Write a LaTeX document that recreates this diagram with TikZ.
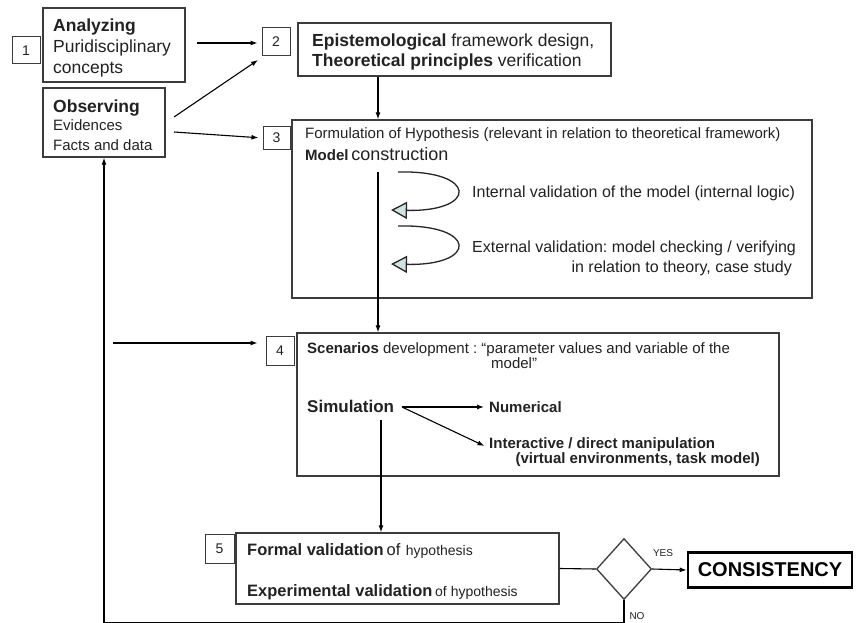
\documentclass[tikz,border=0pt]{standalone}
\usepackage{fontspec}
\setmainfont{Liberation Sans}
\usetikzlibrary{arrows.meta,shapes.geometric}
\definecolor{boxline}{HTML}{3C3C3C}
\definecolor{tealfill}{HTML}{CFE4E1}
\definecolor{txtc}{HTML}{222222}
\newcommand\fsz[1]{\fontsize{#1}{#1}\selectfont}
\frenchspacing
\begin{document}
\begin{tikzpicture}[x=1pt,y=-1pt,
  box/.style={draw=boxline, line width=1.3pt, rectangle, inner sep=0},
  numbox/.style={box, line width=1pt, font=\fsz{14}, text=txtc},
  txt/.style={inner sep=0, anchor=base west, text=txtc},
  txtr/.style={inner sep=0, anchor=base east, text=txtc},
  conn/.style={line width=1.1pt, draw=black, -{Latex[length=7pt,width=5pt]}},
  plain/.style={line width=1.1pt, draw=black},
  curv/.style={line width=1.3pt, draw=black!85, -{Triangle[length=16pt,width=17pt,fill=tealfill]}}
]
\useasboundingbox (0,0) rectangle (856,623);
\fill[white] (0,0) rectangle (856,623);

% ---- boxes
\node[numbox, minimum width=28, minimum height=27] (n1) at (26,50.5) {1};
\node[box, minimum width=142, minimum height=74] (analyze) at (114,45) {};
\node[box, minimum width=122, minimum height=69] (observe) at (104,122.5) {};
\node[numbox, minimum width=28, minimum height=28] (n2) at (276,42) {2};
\node[box, minimum width=313, minimum height=53] (frame) at (454.5,49.5) {};
\node[numbox, minimum width=27, minimum height=22] (n3) at (276.5,138) {3};
\node[box, minimum width=520, minimum height=178] (model) at (552,209) {};
\node[numbox, minimum width=28, minimum height=29] (n4) at (280,350.5) {4};
\node[box, minimum width=482, minimum height=143] (scen) at (538,404.5) {};
\node[numbox, minimum width=29, minimum height=29] (n5) at (219.5,548.5) {5};
\node[box, minimum width=323, minimum height=71] (valid) at (397.5,568.5) {};
\node[draw=boxline, line width=1.3pt, diamond, minimum width=55, minimum height=61, inner sep=0] (dia) at (624,569) {};
\node[draw=black, line width=2.6pt, rectangle, inner sep=0, minimum width=164, minimum height=35,
      font=\fsz{20}\bfseries] (consist) at (770,570) {CONSISTENCY};

% ---- texts
\node[txt, font=\fsz{17.5}\bfseries] (t1a) at (53,31.5) {Analyzing};
\node[txt, font=\fsz{17.5}] (t1b) at (53,53) {Puridisciplinary};
\node[txt, font=\fsz{17.5}] (t1c) at (53,73.5) {concepts};
\node[txt, font=\fsz{17.5}\bfseries] (t1d) at (53,112.5) {Observing};
\node[txt, font=\fsz{15}] (t1e) at (53,130.5) {Evidences};
\node[txt, font=\fsz{15}] (t1f) at (53,150) {Facts and data};

\node[txt, font=\fsz{17.5}] (t2a) at (312,46.7) {\textbf{Epistemological} framework design,};
\node[txt, font=\fsz{17.5}] (t2b) at (312,66.7) {\textbf{Theoretical principles} verification};

\node[txt, font=\fsz{15}] (t3a) at (305,139) {Formulation of Hypothesis (relevant in relation to theoretical framework)};
\node[txt] (t3b) at (305,160) {{\fsz{15}\bfseries Model} {\fsz{18}construction}};
\node[txt, font=\fsz{16}] (t3c) at (472,197) {Internal validation of the model (internal logic)};
\node[txt, font=\fsz{16}] (t3d) at (472,252) {External validation: model checking / verifying};
\node[txtr, font=\fsz{16}] (t3e) at (792,272) {in relation to theory, case study};

\node[txt, font=\fsz{15}] (t4a) at (307,353) {\textbf{Scenarios} development : “parameter values and variable of the};
\node[txt, font=\fsz{15}] (t4b) at (491,368) {model”};
\node[txt, font=\fsz{17}\bfseries] (sim) at (307,412) {Simulation};
\node[txt, font=\fsz{15}\bfseries] (num) at (489,412) {Numerical};
\node[txt, font=\fsz{15}\bfseries] (inter) at (489,448) {Interactive / direct manipulation};
\node[txtr, font=\fsz{15}\bfseries] (t4c) at (760,463) {(virtual environments, task model)};

\node[txt] (t5a) at (247,555) {{\fsz{16.5}\bfseries Formal validation} {\fsz{16.5}of} \ {\fsz{14}hypothesis}};
\node[txt] (t5b) at (247,596) {{\fsz{16.5}\bfseries Experimental validation} {\fsz{14}of hypothesis}};

\node[inner sep=0, font=\fsz{10}, text=txtc] (yes) at (663,553) {YES};
\node[inner sep=0, font=\fsz{10}, text=txtc] (no) at (637,616) {NO};

% ---- connectors
\coordinate (a1) at (197,43);
\coordinate (o1) at (174,117);
\coordinate (o2) at (174,132);
\coordinate (spine) at (378,0);
\coordinate (s1) at (378,172);
\coordinate (l4) at (113,343);
\coordinate (simA) at (402,407);
\coordinate (simB) at (381,420);

\draw[conn, shorten >=4pt] (a1) -- (a1 -| n2.west);
\draw[conn] (o1) -- (258,60);
\draw[conn, shorten >=4pt] (o2) -- (n3.west);
\draw[conn] (frame.south -| spine) -- (model.north -| spine);
\draw[conn] (s1) -- (scen.north -| spine);
\draw[conn, shorten >=8pt] (l4) -- (l4 -| n4.west);
\draw[conn, shorten >=5pt] (simA) -- (simA -| num.west);
\draw[conn, shorten >=5pt] (simA) -- ([yshift=-4pt]inter.west);
\draw[conn] (simB) -- (valid.north -| simB);
\draw[plain] (valid.east) -- (dia.west);
\draw[conn] (dia.east) -- (consist.west);
\draw[conn] (dia.south) -- ++(0,22) -| (observe.south);

% ---- self-validation loops
\draw[curv] (398,172) .. controls (478,170) and (478,212) .. (391,210);
\draw[curv] (398,226) .. controls (478,224) and (478,266) .. (391,264);
\end{tikzpicture}
\end{document}
